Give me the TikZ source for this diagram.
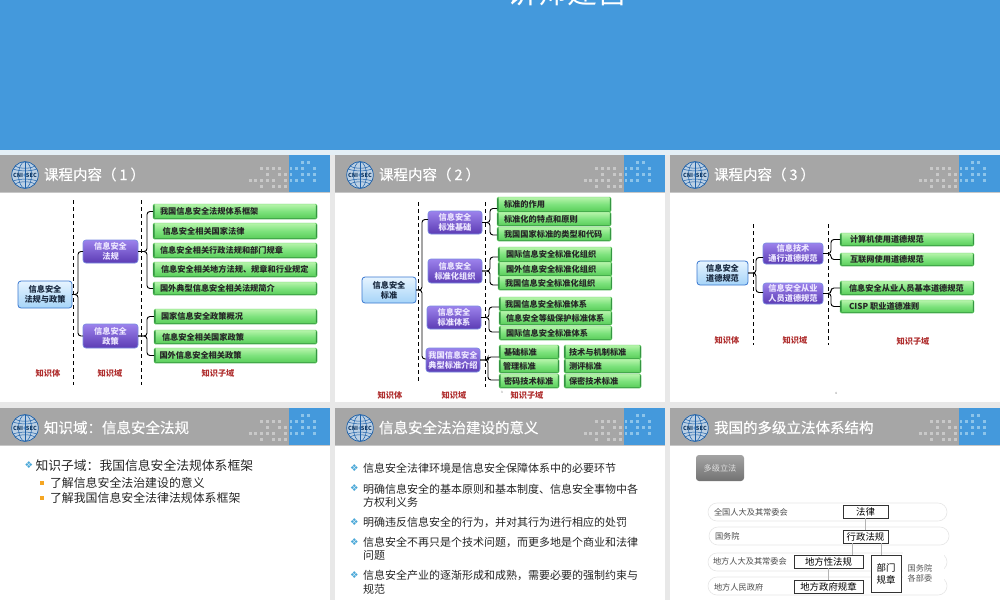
\documentclass[tikz,border=0pt]{standalone}
\usepackage{fontspec}
\setmainfont{Noto Sans CJK SC}
\newfontfamily\symfont{DejaVu Sans}
\newfontfamily\titlefont[FakeBold=0.5]{Noto Sans CJK SC}
\usetikzlibrary{calc,shapes.geometric}
\definecolor{bandblue}{HTML}{4499DC}
\definecolor{headgray}{HTML}{A6A6A6}
\definecolor{dotgray}{HTML}{C8C8C8}
\definecolor{dotblue}{HTML}{8CC4EA}
\definecolor{gutter}{HTML}{E8E8E8}
\definecolor{gutterblue}{HTML}{E4EFF6}
\definecolor{logoblue}{HTML}{1C5FA8}
\definecolor{logofill}{HTML}{BCD0E4}
\definecolor{labelred}{HTML}{B03030}
\definecolor{barline}{HTML}{E6E6E6}
\definecolor{linkgray}{HTML}{B4B4B4}
\definecolor{edgegreen}{HTML}{2F8F3F}
\definecolor{gtop}{HTML}{B8F5AC}
\definecolor{gmid}{HTML}{7CE27C}
\definecolor{gbot}{HTML}{58CC58}
\definecolor{ptop}{HTML}{9C82EC}
\definecolor{pbot}{HTML}{5C3CB4}
\definecolor{pedge}{HTML}{7A8CE2}
\definecolor{ptext}{HTML}{ECE6FF}
\definecolor{rtop}{HTML}{E6F4FF}
\definecolor{rbot}{HTML}{A6D4F8}
\definecolor{redge}{HTML}{3A78D0}
\definecolor{rtext}{HTML}{1A2A40}
\definecolor{bulblue}{HTML}{4AA8D8}
\definecolor{bulorange}{HTML}{F5A623}
\tikzset{
  base/.style={inner sep=0pt,outer sep=0pt},
  gbox/.style={base,rounded corners=1.5pt,top color=gtop,bottom color=gbot,middle color=gmid,
    draw=gbot,line width=.4pt,text=black!85,font=\fontsize{8.2}{10}\selectfont\bfseries,
    path picture={\fill[edgegreen] (path picture bounding box.south west) rectangle ([xshift=1.6pt]path picture bounding box.north west);
      \fill[edgegreen] (path picture bounding box.south east) rectangle ([xshift=-1.2pt]path picture bounding box.north east);
      \fill[edgegreen] (path picture bounding box.south west) rectangle ([yshift=.7pt]path picture bounding box.south east);}},
  pbox/.style={base,rounded corners=3pt,top color=ptop,bottom color=pbot,
    draw=pedge,line width=.7pt,text=ptext,align=center,
    font=\fontsize{8.2}{10}\selectfont\bfseries},
  rbox/.style={base,rounded corners=3pt,top color=rtop,bottom color=rbot,
    draw=redge,line width=.8pt,text=rtext,align=center,
    font=\fontsize{8.2}{10}\selectfont\bfseries},
  conn/.style={draw=black,line width=.9pt,rounded corners=3pt},
  dashline/.style={draw=black,line width=1pt,dash pattern=on 4pt off 3pt},
  lbl/.style={base,text=labelred,font=\fontsize{8.2}{10}\selectfont\bfseries},
  titletext/.style={base,anchor=west,text=white,font=\titlefont\fontsize{14.5}{16}\selectfont},
  bodytext/.style={base,anchor=west,text=black!85,font=\fontsize{11}{13}\selectfont},
  bullet/.style={base,text=bulblue,font=\symfont\fontsize{9.5}{10}\selectfont},
  sbullet/.style={base,fill=bulorange,minimum size=3.6pt},
  barbox/.style={base,draw=barline,fill=white,line width=.6pt,rounded corners=9pt},
  barlabel/.style={base,anchor=west,text=black!70,font=\fontsize{8.2}{10}\selectfont},
  lawbox/.style={base,draw=black!80,fill=white,line width=.7pt,text=black,align=center,font=\fontsize{9.4}{12}\selectfont},
  lawlink/.style={draw=linkgray,line width=.6pt},
}
\newcommand{\slideframe}[5]{% id, x, y, height, title
  \begin{scope}[shift={(#2,#3)}]
    \fill[white] (0,0) rectangle (330,#4);
    \fill[headgray] (0,0) rectangle (289,37);
    \fill[bandblue] (289,0) rectangle (330,37);
    \draw[line width=.7pt,draw=black!22] (0,37) -- (330,37);
    \foreach \c/\r in {2/2,3/2,4/2,5/2,3/3,5/3,6/3,0/4,1/4,2/4,3/4,4/4,6/4,2/5,4/5,5/5,6/5}
      \fill[dotgray] ({250+5.85*\c-1.4},{1+6*\r-1.4}) rectangle ++(2.9,2.9);
    \foreach \c/\r in {9/1,10/1,7/2,8/2,9/2,11/2,7/3,9/3,10/3,11/3,7/4,8/4,9/4,11/4}
      \fill[dotblue] ({250+5.85*\c-1.4},{1+6*\r-1.4}) rectangle ++(2.9,2.9);
    \fill[logofill] (25,20) circle[radius=13.3];
    \draw[logoblue,line width=.7pt] (25,20) circle[radius=13.3];
    \draw[logoblue,line width=.5pt] (25,20) ellipse[x radius=6.5,y radius=13.3];
    \draw[logoblue,line width=.5pt] (25,6.7) -- (25,33.3);
    \draw[logoblue,line width=.5pt] (15,11) .. controls (20,14) and (30,14) .. (35,11);
    \draw[logoblue,line width=.5pt] (13,14) .. controls (20,16.5) and (30,16.5) .. (37,14);
    \draw[logoblue,line width=.5pt] (15,29) .. controls (20,26) and (30,26) .. (35,29);
    \draw[logoblue,line width=.5pt] (13,26) .. controls (20,23.5) and (30,23.5) .. (37,26);
    \node[base,text=logoblue!60!black,font=\fontsize{5.6}{6}\selectfont\bfseries] (logo#1) at (25,20) {CNI\,\,\,SEC};
    \draw[logoblue,line width=.3pt] (25,20) circle[radius=1.4];
    \node[titletext] (title#1) at (44,19.5) {#5};
  \end{scope}
}
\newcommand{\gb}[7]{% name x1 x2 y1 y2 textx text
  \pgfmathsetmacro{\gw}{#3-#2}\pgfmathsetmacro{\gh}{#5-#4}\pgfmathsetmacro{\gy}{(#4+#5)/2}\pgfmathsetmacro{\go}{#6-#2}
  \node[gbox,anchor=west,minimum height=\gh pt] (#1) at (#2,\gy) {\makebox[\gw pt][l]{\hspace*{\go pt}#7}};
}
\newcommand{\pb}[6]{% name x1 x2 y1 y2 text
  \pgfmathsetmacro{\gw}{#3-#2}\pgfmathsetmacro{\gh}{#5-#4}\pgfmathsetmacro{\gy}{(#4+#5)/2}\pgfmathsetmacro{\gx}{(#2+#3)/2}
  \node[pbox,minimum width=\gw pt,minimum height=\gh pt] (#1) at (\gx,\gy) {#6};
}
\newcommand{\rb}[6]{%
  \pgfmathsetmacro{\gw}{#3-#2}\pgfmathsetmacro{\gh}{#5-#4}\pgfmathsetmacro{\gy}{(#4+#5)/2}\pgfmathsetmacro{\gx}{(#2+#3)/2}
  \node[rbox,minimum width=\gw pt,minimum height=\gh pt] (#1) at (\gx,\gy) {#6};
}
\newcommand{\lw}[6]{%
  \pgfmathsetmacro{\gw}{#3-#2}\pgfmathsetmacro{\gh}{#5-#4}\pgfmathsetmacro{\gy}{(#4+#5)/2}\pgfmathsetmacro{\gx}{(#2+#3)/2}
  \node[lawbox,minimum width=\gw pt,minimum height=\gh pt] (#1) at (\gx,\gy) {#6};
}
\newcommand{\brc}[4]{% source target stem-dx target-yshift(up, pt)
  \draw[conn] (#1.east) -- ++(#3,0) |- ([yshift=#4pt]#2.west);
}
\newcommand{\barrow}[5]{%
  \pgfmathsetmacro{\gw}{#3-#2}\pgfmathsetmacro{\gh}{#5-#4}\pgfmathsetmacro{\gy}{(#4+#5)/2}\pgfmathsetmacro{\gx}{(#2+#3)/2}
  \node[barbox,minimum width=\gw pt,minimum height=\gh pt] (#1) at (\gx,\gy) {};
}
\begin{document}
\begin{tikzpicture}[x=1pt,y=-1pt]
\useasboundingbox (0,0) rectangle (1000,600);
\fill[gutter] (0,0) rectangle (1000,600);
\fill[gutterblue] (0,150) rectangle (1000,155);
\fill[bandblue] (0,0) rectangle (1000,150);
\begin{scope}
  \clip (0,0) rectangle (1000,150);
  \node[base,text=white,font=\fontsize{30}{32}\selectfont] (covertitle) at (567,-8) {讲师建宫};
\end{scope}

\slideframe{A}{0}{155}{247}{课程内容（\hspace{3pt}1\hspace{3pt}）}
\slideframe{B}{335}{155}{247}{课程内容（\hspace{3pt}2\hspace{3pt}）}
\slideframe{C}{670}{155}{247}{课程内容（\hspace{3pt}3\hspace{3pt}）}
\slideframe{D}{0}{408}{192}{知识域：信息安全法规}
\slideframe{E}{335}{408}{192}{信息安全法治建设的意义}
\slideframe{F}{670}{408}{192}{我国的多级立法体系结构}

% ---------- slide 1
\draw[dashline] (73,200) -- (73,385);
\draw[dashline] (141,200) -- (141,385);
\rb{a0}{18}{72}{281}{308}{信息安全\\法规与政策}
\pb{a1}{83}{138}{240}{263}{信息安全\\法规}
\pb{a2}{83}{138}{324}{348}{信息安全\\政策}
\gb{a11}{153}{317}{204}{219}{160}{我国信息安全法规体系框架}
\gb{a12}{153}{317}{223}{239}{162.5}{信息安全相关国家法律}
\gb{a13}{153}{317}{243}{258}{160}{信息安全相关行政法规和部门规章}
\gb{a14}{153}{317}{262}{277}{161}{信息安全相关地方法规、规章和行业规定}
\gb{a15}{153}{317}{282}{295}{160}{国外典型信息安全相关法规简介}
\gb{a21}{154}{317}{309}{324}{161}{国家信息安全政策概况}
\gb{a22}{154}{317}{330}{344}{162}{信息安全相关国家政策}
\gb{a23}{154}{317}{348}{363}{159.5}{国外信息安全相关政策}
\brc{a0}{a1}{6}{0}\brc{a0}{a2}{6}{0}
\brc{a1}{a11}{9}{0}\brc{a1}{a15}{9}{0}
\brc{a2}{a21}{9}{0}\brc{a2}{a23}{9}{0}
\node[lbl] (a3) at (48,373) {知识体};
\node[lbl] (a4) at (110,373) {知识域};
\node[lbl] (a5) at (218,373) {知识子域};

% ---------- slide 2
\draw[dashline] (418,202) -- (418,381);
\draw[dashline] (485,202) -- (485,387);
\rb{b0}{362}{416}{277}{303}{信息安全\\标准}
\pb{b1}{428}{482}{211}{234}{信息安全\\标准基础}
\pb{b2}{428}{482}{259}{283}{信息安全\\标准化组织}
\pb{b3}{427}{481}{306}{329}{信息安全\\标准体系}
\pb{b4}{426}{480}{348}{372}{我国信息安全\\典型标准介绍}
\gb{b11}{497}{611}{197}{212}{504}{标准的作用}
\gb{b12}{497}{611}{212}{226}{504}{标准化的特点和原则}
\gb{b13}{497}{611}{227}{241}{504}{我国国家标准的类型和代码}
\gb{b21}{498}{612}{247}{262}{506}{国际信息安全标准化组织}
\gb{b22}{498}{612}{262}{276}{506}{国外信息安全标准化组织}
\gb{b23}{498}{612}{276}{290}{505}{我国信息安全标准化组织}
\gb{b31}{499}{612}{297}{311}{505}{我国信息安全标准体系}
\gb{b32}{499}{612}{311}{325}{506}{信息安全等级保护标准体系}
\gb{b33}{499}{612}{326}{340}{506}{国际信息安全标准体系}
\gb{b41}{499}{559}{345}{359}{504}{基础标准}
\gb{b42}{499}{559}{359}{373}{503}{管理标准}
\gb{b43}{499}{559}{374}{388}{504}{密码技术标准}
\gb{b51}{564}{641}{345}{359}{569}{技术与机制标准}
\gb{b52}{564}{641}{359}{373}{569}{测评标准}
\gb{b53}{564}{641}{374}{388}{569}{保密技术标准}
\brc{b0}{b1}{6}{3}\brc{b0}{b4}{6}{1}
\brc{b1}{b11}{8}{-4}\brc{b1}{b13}{8}{-1}
\brc{b2}{b21}{8}{-2.5}\brc{b2}{b23}{8}{-2}
\brc{b3}{b31}{8}{-3}\brc{b3}{b33}{8}{1}
\brc{b4}{b41}{8}{-5}\brc{b4}{b43}{8}{1}
\node[lbl] (b5) at (390,395) {知识体};
\node[lbl] (b6) at (454,395) {知识域};
\node[lbl] (b7) at (527,395) {知识子域};
\node[base,text=black!60,font=\fontsize{3}{3}\selectfont] (b8) at (502,392) {3};

% ---------- slide 3
\draw[dashline] (753,224) -- (753,345);
\draw[dashline] (828,224) -- (828,345);
\rb{c0}{697}{748}{261}{285}{信息安全\\道德规范}
\pb{c1}{763}{823}{243}{264}{信息技术\\通行道德规范}
\pb{c2}{763}{823}{283}{304}{信息安全从业\\人员道德规范}
\gb{c11}{840}{974}{233}{246}{850}{计算机使用道德规范}
\gb{c12}{840}{974}{253}{266}{850}{互联网使用道德规范}
\gb{c21}{840}{974}{281}{295}{849}{信息安全从业人员基本道德规范}
\gb{c22}{840}{974}{300}{313}{849}{CISP 职业道德准则}
\brc{c0}{c1}{8}{-4}\brc{c0}{c2}{8}{1}
\brc{c1}{c11}{8}{0}\brc{c1}{c12}{8}{0}
\brc{c2}{c21}{8}{0}\brc{c2}{c22}{8}{0}
\node[lbl] (c3) at (727,340) {知识体};
\node[lbl] (c4) at (795,340) {知识域};
\node[lbl] (c5) at (913,341) {知识子域};
\node[base,text=black!60,font=\fontsize{3}{3}\selectfont] (c6) at (836,393) {4};

% ---------- slide 4
\node[bullet] (d0) at (29,465) {❖};
\node[base,anchor=west,text=black!85,font=\fontsize{12.8}{14}\selectfont] (d1) at (35.5,466) {知识子域：我国信息安全法规体系框架};
\node[sbullet] (d2) at (42,483) {};
\node[base,anchor=west,text=black!85,font=\fontsize{11.9}{14}\selectfont] (d3) at (50,483) {了解信息安全法治建设的意义};
\node[sbullet] (d4) at (42,498) {};
\node[base,anchor=west,text=black!85,font=\fontsize{11.9}{14}\selectfont] (d5) at (50,498) {了解我国信息安全法律法规体系框架};

% ---------- slide 5
\foreach \n/\yy in {1/468,2/488,3/522,4/542,5/575}
  \node[bullet] (e\n b) at (354.5,\yy) {❖};
\node[bodytext] (e1) at (363,468) {信息安全法律环境是信息安全保障体系中的必要环节};
\node[bodytext] (e2) at (363,489) {明确信息安全的基本原则和基本制度、信息安全事物中各};
\node[bodytext] (e2x) at (363,502.5) {方权利义务};
\node[bodytext] (e3) at (363,522) {明确违反信息安全的行为，并对其行为进行相应的处罚};
\node[bodytext] (e4) at (363,542) {信息安全不再只是个技术问题，而更多地是个商业和法律};
\node[bodytext] (e4x) at (363,555) {问题};
\node[bodytext] (e5) at (363,575) {信息安全产业的逐渐形成和成熟，需要必要的强制约束与};
\node[bodytext] (e5x) at (363,589) {规范};

% ---------- slide 6
\node[base,rounded corners=3pt,top color=black!36,bottom color=black!55,minimum width=48pt,minimum height=26pt,
  text=black!12,font=\fontsize{8.2}{10}\selectfont] (f0) at (720,468) {多级立法};
\barrow{fb1}{708}{947}{503}{521}
\barrow{fb2}{709}{949}{527}{545}
\barrow{fb3}{708}{947}{553}{571}
\barrow{fb4}{708}{947}{577}{595}
\node[barlabel] (fl1) at (714,512) {全国人大及其常委会};
\node[barlabel] (fl2) at (715,536.5) {国务院};
\node[barlabel] (fl3) at (713,561) {地方人大及其常委会};
\node[barlabel] (fl4) at (714,587) {地方人民政府};
\fill[white] (903,549) rectangle (944,590);
\lw{f1}{843}{888}{505}{518}{法律}
\lw{f2}{843}{888}{530}{543}{行政法规}
\lw{f3}{794}{863}{555}{568}{地方性法规}
\lw{f4}{794}{863}{580}{593}{地方政府规章}
\lw{f5}{871}{901}{555}{592}{部门\\规章}
\draw[lawlink] (f1.south) -- (f2.north);
\draw[lawlink] ([xshift=-13.5pt]f2.south) -- ([xshift=23.5pt]f3.north);
\draw[lawlink] ([xshift=15.5pt]f2.south) -- ([xshift=-5pt]f5.north);
\draw[lawlink] (f3.south) -- (f4.north);
\node[base,text=black!65,align=center,font=\fontsize{8.2}{10}\selectfont] (f6) at (920,573) {国务院\\各部委};
\end{tikzpicture}
\end{document}
